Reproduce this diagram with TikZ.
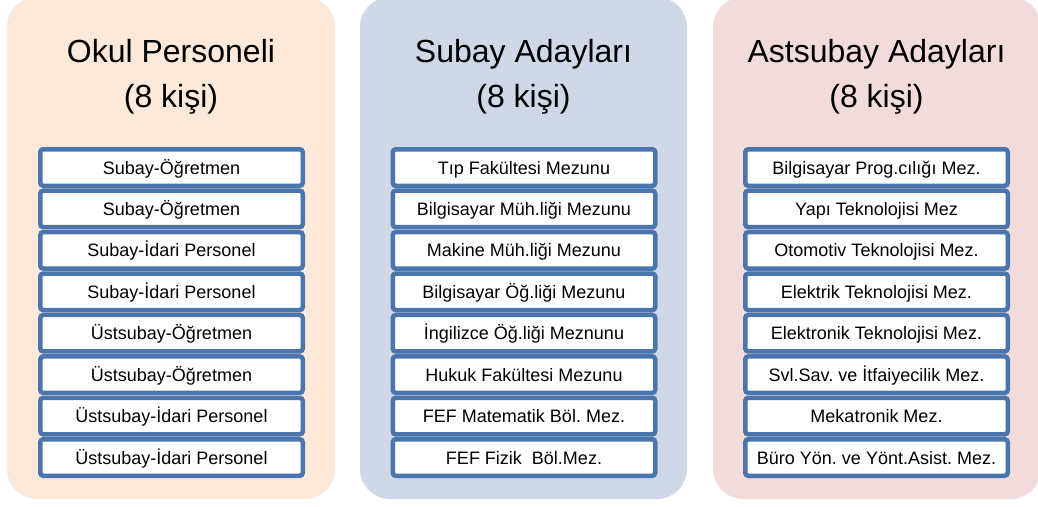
\documentclass[tikz,border=0pt]{standalone}
\usepackage{fontspec}
\setmainfont{Liberation Sans}
\frenchspacing
\definecolor{okulrenk}{HTML}{FDE9D9}
\definecolor{subayrenk}{HTML}{D0D8E8}
\definecolor{astsubayrenk}{HTML}{F2DCDB}
\definecolor{kutumavi}{HTML}{4A75AD}
\begin{document}
\begin{tikzpicture}[x=1pt,y=-1pt,
	baslik/.style={anchor=base,inner sep=0pt,font=\fontsize{32}{36}\selectfont},
	kutu/.style={draw=kutumavi,fill=white,line width=4.5pt,rounded corners=3pt,
		minimum width=262.5pt,minimum height=36.5pt,inner sep=0pt,
		text height=13pt,text depth=0pt,font=\fontsize{18}{20}\selectfont}]
	\useasboundingbox (0,0) rectangle (1038,506);
	\fill [okulrenk,rounded corners=30pt] (7,-3) rectangle (335,499);
	\fill [subayrenk,rounded corners=30pt] (360,-3) rectangle (687,499);
	\fill [astsubayrenk,rounded corners=30pt] (713,-3) rectangle (1041,499);
	\node [baslik] (okul) at (171,62) {Okul Personeli};
	\node [baslik] (okulsayi) at (171,107) {(8 kişi)};
	\node [baslik] (subay) at (523.5,62) {Subay Adayları};
	\node [baslik] (subaysayi) at (523.5,107) {(8 kişi)};
	\node [baslik] (astsubay) at (876.5,62) {Astsubay Adayları};
	\node [baslik] (astsubaysayi) at (876.5,107) {(8 kişi)};
	\foreach \etiket [count=\i] in {Subay-Öğretmen,Subay-Öğretmen,Subay-İdari Personel,Subay-İdari Personel,Üstsubay-Öğretmen,Üstsubay-Öğretmen,Üstsubay-İdari Personel,Üstsubay-İdari Personel}
		\node [kutu] (okul\i) at (171.5,{167.5+(\i-1)*41.43}) {\etiket};
	\foreach \etiket [count=\i] in {Tıp Fakültesi Mezunu,Bilgisayar Müh.liği Mezunu,Makine Müh.liği Mezunu,Bilgisayar Öğ.liği Mezunu,İngilizce Öğ.liği Meznunu,Hukuk Fakültesi Mezunu,FEF Matematik Böl. Mez.,FEF Fizik~ Böl.Mez.}
		\node [kutu] (subay\i) at (524,{167.5+(\i-1)*41.43}) {\etiket};
	\foreach \etiket [count=\i] in {Bilgisayar Prog.cılığı Mez.,Yapı Teknolojisi Mez,Otomotiv Teknolojisi Mez.,Elektrik Teknolojisi Mez.,Elektronik Teknolojisi Mez.,Svl.Sav. ve İtfaiyecilik Mez.,Mekatronik Mez.,Büro Yön. ve Yönt.Asist. Mez.}
		\node [kutu] (astsubay\i) at (876.5,{167.5+(\i-1)*41.43}) {\etiket};
\end{tikzpicture}
\end{document}
